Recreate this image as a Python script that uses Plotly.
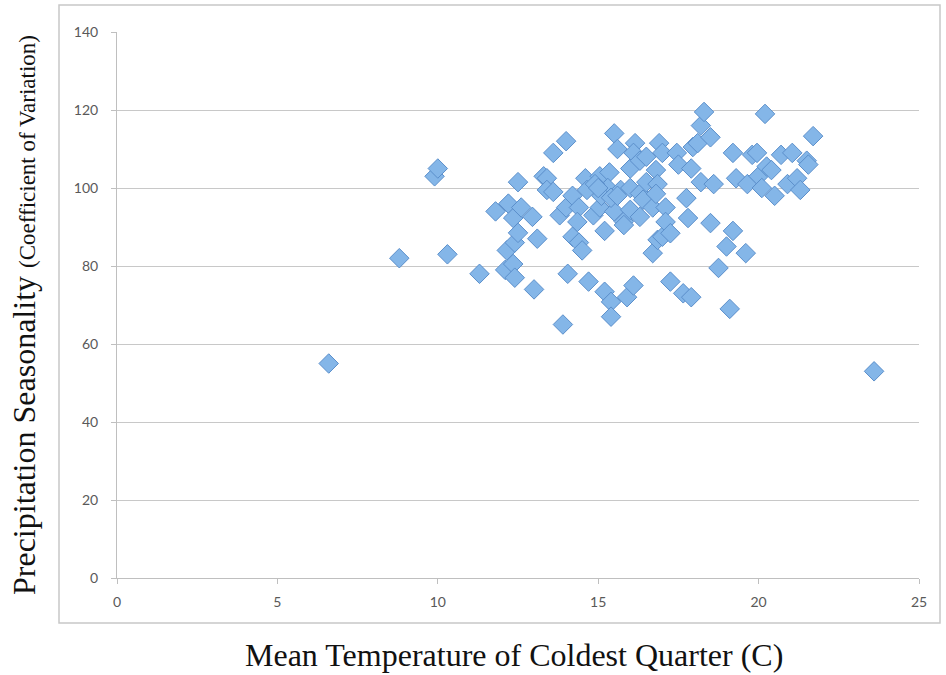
import plotly.graph_objects as go

temp = [6.6, 8.8, 9.9, 10.0, 10.3, 11.3, 11.8, 12.2, 12.1, 12.35, 12.4, 12.15, 12.4, 12.5, 12.35, 12.6,
        12.5, 12.95, 13.0, 13.1, 13.3, 13.4, 13.4, 13.6, 13.6, 13.8, 13.9, 14.0, 14.0, 14.05, 14.2, 14.4,
        14.35, 14.2, 14.4, 14.5, 14.6, 14.65, 14.7, 14.85, 15.05, 15.05, 15.2, 15.2, 15.35, 15.3, 15.4,
        15.4, 15.5, 15.5, 15.6, 15.7, 15.8, 15.8, 15.9, 16.0, 16.0, 16.0, 16.1, 16.15, 16.1, 16.3, 16.3,
        16.3, 16.4, 16.5, 16.5, 16.7, 16.7, 16.8, 16.85, 16.8, 16.85, 16.9, 17.0, 17.0, 17.1, 17.1, 17.25,
        17.25, 17.45, 17.5, 17.65, 17.75, 17.8, 17.9, 17.9, 17.95, 18.1, 18.2, 18.3, 18.5, 18.2, 18.6,
        18.5, 18.75, 19.0, 19.2, 19.1, 19.6, 19.2, 19.3, 19.65, 19.8, 19.95, 20.0, 20.1, 20.2, 20.25,
        20.4, 20.5, 20.7, 20.9, 21.05, 21.2, 21.3, 21.5, 21.55, 21.7, 23.6,
        15.1, 15.4, 15.6, 14.9, 15.0]
seasonality = [55, 82, 103, 105, 83, 78, 94, 96, 79, 80.5, 77, 84, 86, 88.5, 92.3, 95,
               101.5, 92.6, 74, 87, 103, 102.5, 99.5, 99, 109, 93, 65, 112, 95, 78, 98, 95,
               91.3, 87.5, 86, 84, 102.5, 99.5, 76, 93, 95, 103, 89, 73.4, 104, 100, 70.8,
               67, 114, 94, 110, 99.5, 91.4, 90.5, 72, 100, 105, 94.4, 75, 111.5, 109, 107, 98.6,
               92.6, 97, 101.5, 108, 95, 83.3, 104.6, 101, 98.5, 86.7, 111.5, 109, 87.5, 95, 91.3, 88.4,
               76, 109, 106, 73, 97.4, 92.3, 72, 105, 110.5, 111.5, 116, 119.5, 113, 101.5, 101,
               91, 79.5, 85, 89, 69, 83.3, 109, 102.5, 101, 108.5, 109, 103, 100, 119, 105.5,
               104.6, 98, 108.5, 101, 109, 102.5, 99.5, 107, 106, 113.3, 53,
               98, 97.5, 98, 101, 100]

x_ticks = [0, 5, 10, 15, 20, 25]
y_ticks = [0, 20, 40, 60, 80, 100, 120, 140]

fig = go.Figure()
fig.add_trace(go.Scatter(
    x=temp, y=seasonality, mode="markers",
    marker=dict(symbol="diamond", size=15, color="#84B6E8",
                line=dict(color="#5B8FCB", width=1)),
    showlegend=False, cliponaxis=False,
))

W, H = 946, 675
L, R, T, B = 117, 27, 32, 97
pw, ph = W - L - R, H - T - B

def px(xp):
    return (xp - L) / pw

def py(yp):
    return (H - B - yp) / ph

fig.add_shape(type="rect", xref="paper", yref="paper",
              x0=px(59), x1=px(940), y0=py(623), y1=py(5),
              line=dict(color="#C8C8C8", width=1.5), layer="below")

tickfont = dict(family="Lato, Open Sans, sans-serif", size=14, color="#595959")

fig.update_xaxes(range=[0, 25], tickvals=x_ticks, showgrid=False, zeroline=False,
                 showline=True, linecolor="#BFBFBF", linewidth=1,
                 ticks="outside", ticklen=5, tickcolor="#BFBFBF",
                 tickfont=tickfont, ticklabelstandoff=6)
fig.update_yaxes(range=[0, 140], tickvals=y_ticks, showgrid=True, gridcolor="#C8C8C8",
                 gridwidth=1, zeroline=False,
                 showline=True, linecolor="#BFBFBF", linewidth=1,
                 ticks="outside", ticklen=5, tickcolor="#BFBFBF",
                 tickfont=tickfont, ticklabelstandoff=10)

fig.add_annotation(xref="paper", yref="paper", x=px(514), y=py(655),
                   text="Mean Temperature of Coldest Quarter (C)", showarrow=False,
                   font=dict(family="Liberation Serif, Times New Roman, serif", size=32, color="#111111"),
                   xanchor="center", yanchor="middle")
fig.add_annotation(xref="paper", yref="paper", x=px(24), y=py(315),
                   text="Precipitation Seasonality <span style='font-size:23px'>(Coefficient of Variation)</span>",
                   showarrow=False, textangle=-90,
                   font=dict(family="Liberation Serif, Times New Roman, serif", size=32, color="#111111"),
                   xanchor="center", yanchor="middle")

fig.update_layout(width=W, height=H, margin=dict(l=L, r=R, t=T, b=B, autoexpand=False),
                  paper_bgcolor="white", plot_bgcolor="white")

fig.write_html("out.html")
